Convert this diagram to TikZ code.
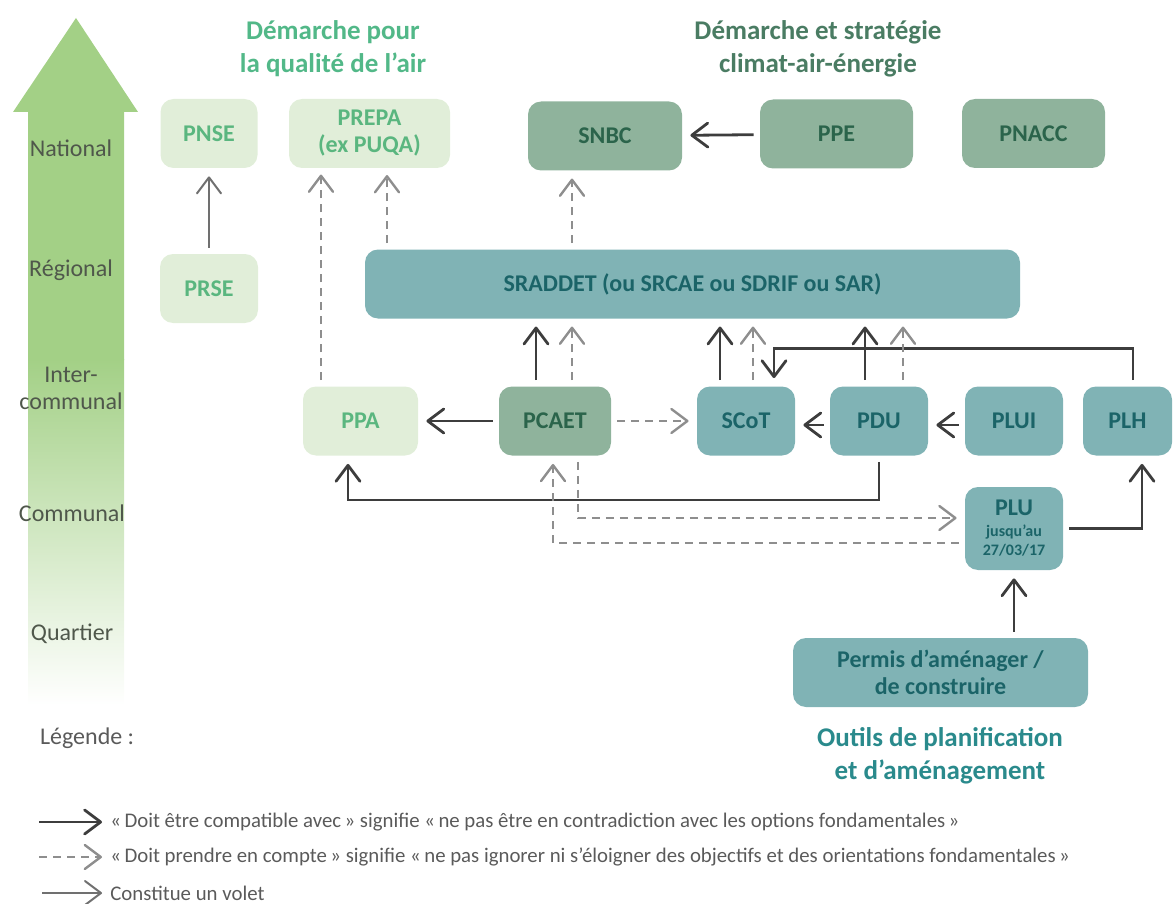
\documentclass[tikz,border=0pt]{standalone}
\usepackage{fontspec}
\setmainfont{Carlito}
\usetikzlibrary{arrows.meta,positioning}

\definecolor{levelgreen}{HTML}{A3D086}
\definecolor{airfill}{HTML}{E1EED9}
\definecolor{airtext}{HTML}{5AB67F}
\definecolor{climfill}{HTML}{8FB39C}
\definecolor{climtext}{HTML}{2B644B}
\definecolor{planfill}{HTML}{80B3B5}
\definecolor{plantext}{HTML}{1B6468}
\definecolor{airtitle}{HTML}{52B888}
\definecolor{climtitle}{HTML}{4A7C63}
\definecolor{plantitle}{HTML}{2A8A8C}
\definecolor{levelgrey}{HTML}{4F574B}
\definecolor{legendgrey}{HTML}{5A5A5A}
\definecolor{arrowdark}{HTML}{3D3D3D}
\definecolor{arrowgrey}{HTML}{8E8E8E}
\definecolor{arrowmid}{HTML}{707070}

\tikzset{
  box/.style={rounded corners=6.5pt, inner sep=0pt, align=center,
    minimum height=34.5pt, font=\fontsize{12}{13.5}\selectfont\bfseries},
  airbox/.style={box, fill=airfill, text=airtext},
  climbox/.style={box, fill=climfill, text=climtext},
  planbox/.style={box, fill=planfill, text=plantext},
  level/.style={align=center, text=levelgrey, font=\fontsize{12}{13.5}\selectfont},
  heading/.style={align=center, font=\fontsize{13.5}{16.5}\selectfont\bfseries},
  legtext/.style={anchor=west, inner sep=0pt, text=legendgrey, font=\fontsize{10.4}{12}\selectfont},
  compat/.style={draw=arrowdark, line width=1.4pt, shorten >=4pt, shorten <=3pt,
    -{Straight Barb[length=8pt, width=12pt, round]}},
  account/.style={compat, draw=arrowgrey, line width=1.2pt, dash pattern=on 4pt off 3pt},
  volet/.style={compat, draw=arrowmid, line width=1pt}
}

\begin{document}
\begin{tikzpicture}[x=0.5pt,y=-0.5pt]
\useasboundingbox (0,0) rectangle (1173,904);

% echelle territoriale
\fill[levelgreen] (76,18) -- (138,112) -- (124,112) -- (124,360) -- (28,360) -- (28,112) -- (13,112) -- cycle;
\shade[top color=levelgreen, bottom color=white] (28,359) rectangle (124,705);
\node[level] (national) at (71,148) {National};
\node[level] (regional) at (71,270) {Régional};
\node[level] (intercom) at (71,388) {Inter-\\communal};
\node[level] (communal) at (72,513) {Communal};
\node[level] (quartier) at (72,634) {Quartier};
\node[level, text=legendgrey, anchor=west] (legende) at (33,738) {Légende :};

% titres
\node[heading, text=airtitle] (titair) at (333,48.5) {Démarche pour\\la qualité de l’air};
\node[heading, text=climtitle] (titclim) at (818,48.5) {Démarche et stratégie\\climat-air-énergie};
\node[heading, text=plantitle] (titplan) at (940,756) {Outils de planification\\et d’aménagement};

% plans
\node[airbox, minimum width=48.5pt] (pnse) at (209,133.5) {PNSE};
\node[airbox, minimum width=49pt] (prse) at (209,288.5) {PRSE};
\node[airbox, minimum width=80.5pt] (prepa) at (369.5,133.5) {PREPA\\(ex PUQA)};
\node[climbox, minimum width=77pt] (snbc) at (605,136) {SNBC};
\node[climbox, minimum width=76.5pt] (ppe) at (836.5,134) {PPE};
\node[climbox, minimum width=71.5pt] (pnacc) at (1033.5,133.5) {PNACC};
\node[planbox, minimum width=327.5pt] (sraddet) at (692.5,284) {SRADDET (ou SRCAE ou SDRIF ou SAR)};
\node[airbox, minimum width=57.5pt] (ppa) at (360.5,421) {PPA};
\node[climbox, minimum width=56pt] (pcaet) at (555,421) {PCAET};
\node[planbox, minimum width=49pt] (scot) at (746,421) {SCoT};
\node[planbox, minimum width=49pt] (pdu) at (879,421) {PDU};
\node[planbox, minimum width=49pt] (plui) at (1014,421) {PLUI};
\node[planbox, minimum width=44.5pt] (plh) at (1127.5,421) {PLH};
\node[planbox, minimum width=49pt, minimum height=41.5pt] (plu) at (1014,528.5)
  {PLU\\[-3pt]{\fontsize{8}{9.5}\selectfont jusqu’au}\\[-4pt]{\fontsize{8}{9.5}\selectfont 27/03/17}};
\node[planbox, minimum width=147.5pt] (permis) at (940.5,672.5) {Permis d’aménager /\\de construire};

% doit etre compatible avec
\draw[volet] (prse) -- (pnse);
\draw[compat] (ppe) -- (snbc);
\draw[compat] (pcaet) -- (ppa);
\draw[compat] ([xshift=-9.5pt]pcaet.north) -- ++(0,-67.5);
\draw[compat] ([xshift=-13pt]scot.north) -- ++(0,-67.5);
\draw[compat] ([xshift=-7pt]pdu.north) -- ++(0,-67.5);
\draw[compat] ([xshift=2.75pt]plh.north) -- ++(0,-38) -| ([xshift=14pt]scot.north);
\draw[compat] ([yshift=-2pt]pdu.west) -- ([yshift=-2pt]scot.east);
\draw[compat] ([yshift=-2pt]plui.west) -- ([yshift=-2pt]pdu.east);
\draw[compat] (pdu.south) -- ++(0,44) -| ([xshift=-6.25pt]ppa.south);
\draw[compat] (plu.east) -| ([xshift=7.25pt]plh.south);
\draw[compat] (plu.south |- permis.north) -- (plu.south);

% doit prendre en compte
\draw[account] ([xshift=-19.75pt]ppa.north) -- ++(0,-219.5);
\draw[account] ([xshift=-152.75pt]sraddet.north) -- ++(0,-82);
\draw[account] ([xshift=-60.25pt]sraddet.north) -- ++(0,-78.5);
\draw[account] ([xshift=8.5pt]pcaet.north) -- ++(0,-67.5);
\draw[account] ([xshift=3.5pt]scot.north) -- ++(0,-67.5);
\draw[account] ([xshift=12pt]pdu.north) -- ++(0,-67.5);
\draw[account] (pcaet) -- (scot);
\draw[account] ([xshift=11.5pt]pcaet.south) |- ([yshift=5.25pt]plu.west);
\draw[account] ([yshift=-7.25pt]plu.west) -| ([xshift=-1pt]pcaet.south);

% legende
\node[legtext] (legcompat) at (110,822) {«\,Doit être compatible avec\,» signifie «\,ne pas être en contradiction avec les options fondamentales\,»};
\node[legtext] (legaccount) at (110,857) {«\,Doit prendre en compte\,» signifie «\,ne pas ignorer ni s’éloigner des objectifs et des orientations fondamentales\,»};
\node[legtext] (legvolet) at (110,893) {Constitue un volet};
\draw[compat] ([xshift=-38.5pt]legcompat.west) -- (legcompat.west);
\draw[account] ([xshift=-38.5pt]legaccount.west) -- (legaccount.west);
\draw[volet] ([xshift=-37pt]legvolet.west) -- (legvolet.west);
\end{tikzpicture}
\end{document}
